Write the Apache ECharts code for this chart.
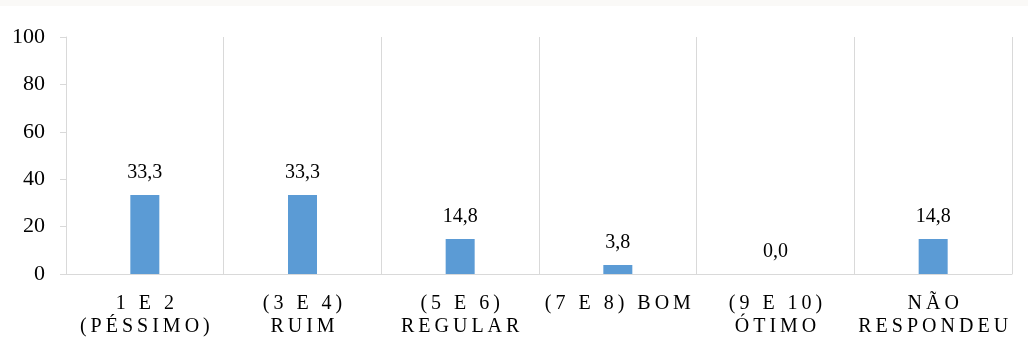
<!DOCTYPE html>
<html>
<head>
<meta charset="utf-8">
<script src="https://cdn.jsdelivr.net/npm/echarts@6/dist/echarts.min.js"></script>
<style>
  html, body { margin: 0; padding: 0; background: #ffffff; }
  #chart { width: 1028px; height: 347px; }
</style>
</head>
<body>
<div id="chart"></div>
<script>
// Ratings grouped by score band (percent of respondents)
const categories = [
  '1 E 2\n(PÉSSIMO)',
  '(3 E 4)\nRUIM',
  '(5 E 6)\nREGULAR',
  '(7 E 8) BOM',
  '(9 E 10)\nÓTIMO',
  'NÃO\nRESPONDEU'
];
const values = [33.3, 33.3, 14.8, 3.8, 0.0, 14.8];
const yTicks = [0, 20, 40, 60, 80, 100];

const FONT = '"Liberation Serif", "Times New Roman", serif';
const GRID_COLOR = '#d9d9d9';

// Spread letters apart with thin spaces, line by line
function spaced(text) {
  return text.split('\n').map(line => Array.from(line).join('\u2009')).join('\n');
}

const chart = echarts.init(document.getElementById('chart'));
chart.setOption({
  animation: false,
  backgroundColor: '#ffffff',
  graphic: [{
    type: 'rect',
    shape: { x: 0, y: 0, width: 1028, height: 6 },
    style: { fill: '#faf9f7' },
    silent: true
  }],
  grid: { left: 66, right: 16, top: 37, bottom: 73, containLabel: false },
  xAxis: {
    type: 'category',
    data: categories,
    boundaryGap: true,
    axisLine: { show: true, lineStyle: { color: GRID_COLOR, width: 1 } },
    axisTick: { show: false },
    splitLine: { show: true, lineStyle: { color: GRID_COLOR, width: 1 } },
    axisLabel: {
      interval: 0,
      margin: 18,
      color: '#000000',
      fontFamily: FONT,
      fontSize: 20,
      lineHeight: 23,
      formatter: v => spaced(v)
    }
  },
  yAxis: {
    type: 'value',
    min: yTicks[0],
    max: yTicks[yTicks.length - 1],
    interval: 20,
    axisLine: { show: true, lineStyle: { color: GRID_COLOR, width: 1 } },
    axisTick: { show: true, length: 6, lineStyle: { color: GRID_COLOR } },
    splitLine: { show: false },
    axisLabel: {
      margin: 21,
      color: '#000000',
      fontFamily: FONT,
      fontSize: 22
    }
  },
  series: [{
    type: 'bar',
    data: values,
    barWidth: 29,
    itemStyle: { color: '#5b9bd5' },
    label: {
      show: true,
      position: 'top',
      distance: 12,
      color: '#000000',
      fontFamily: FONT,
      fontSize: 20,
      formatter: p => p.value.toFixed(1).replace('.', ',')
    }
  }]
});
</script>
</body>
</html>
